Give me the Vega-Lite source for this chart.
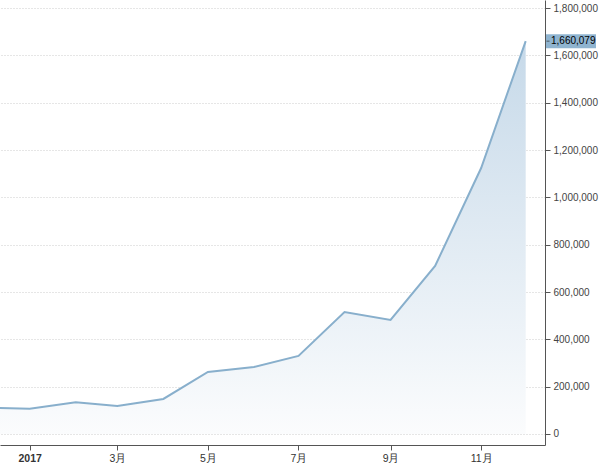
{
  "$schema": "https://vega.github.io/schema/vega-lite/v6.json",
  "width": 545,
  "height": 445,
  "autosize": {"type": "none"},
  "padding": {"left": 0, "top": 0, "right": 55, "bottom": 18},
  "background": "white",
  "config": {
    "view": {"stroke": null},
    "font": "Liberation Sans"
  },
  "data": {
    "values": [
      {"date": "2016-12-01", "value": 112000},
      {"date": "2017-01-01", "value": 107000},
      {"date": "2017-02-01", "value": 134000},
      {"date": "2017-03-01", "value": 118000},
      {"date": "2017-04-01", "value": 148000},
      {"date": "2017-05-01", "value": 262000},
      {"date": "2017-06-01", "value": 283000},
      {"date": "2017-07-01", "value": 330000},
      {"date": "2017-08-01", "value": 515000},
      {"date": "2017-09-01", "value": 482000},
      {"date": "2017-10-01", "value": 710000},
      {"date": "2017-11-01", "value": 1124000},
      {"date": "2017-12-01", "value": 1660079}
    ]
  },
  "encoding": {
    "x": {
      "field": "date",
      "type": "temporal",
      "scale": {
        "type": "utc",
        "domain": [
          {"year": 2016, "month": "dec", "date": 12, "utc": true},
          {"year": 2017, "month": "dec", "date": 14, "utc": true}
        ]
      },
      "axis": {
        "title": null,
        "values": [
          {"year": 2017, "month": "jan", "date": 1, "utc": true},
          {"year": 2017, "month": "mar", "date": 1, "utc": true},
          {"year": 2017, "month": "may", "date": 1, "utc": true},
          {"year": 2017, "month": "jul", "date": 1, "utc": true},
          {"year": 2017, "month": "sep", "date": 1, "utc": true},
          {"year": 2017, "month": "nov", "date": 1, "utc": true}
        ],
        "labelExpr": "utcmonth(datum.value) == 0 ? utcFormat(datum.value, '%Y') : (utcmonth(datum.value) + 1) + '月'",
        "labelFontWeight": {"condition": {"test": "utcmonth(datum.value) == 0", "value": "bold"}, "value": "normal"},
        "labelFontSize": 10.5,
        "labelColor": "#333333",
        "labelPadding": 3,
        "domainColor": "#555555",
        "tickColor": "#555555",
        "tickSize": 5,
        "grid": false
      }
    },
    "y": {
      "field": "value",
      "type": "quantitative",
      "scale": {"domain": [-46500, 1834000], "nice": false, "zero": false},
      "axis": {
        "title": null,
        "orient": "right",
        "values": [0, 200000, 400000, 600000, 800000, 1000000, 1200000, 1400000, 1600000, 1800000],
        "format": ",d",
        "labelFontSize": 10,
        "labelColor": "#444444",
        "labelPadding": 3,
        "domainColor": "#555555",
        "tickColor": "#555555",
        "tickSize": 5,
        "grid": true,
        "gridColor": "#cccccc",
        "gridDash": [1, 2]
      }
    }
  },
  "layer": [
    {
      "mark": {
        "type": "area",
        "clip": true,
        "color": {
          "gradient": "linear",
          "x1": 0, "y1": 0, "x2": 0, "y2": 1,
          "stops": [
            {"offset": 0, "color": "#c6d9e9"},
            {"offset": 1, "color": "#fbfcfd"}
          ]
        }
      }
    },
    {
      "mark": {"type": "line", "clip": true, "color": "#88afcc", "strokeWidth": 2}
    },
    {
      "transform": [{"filter": "datum.value == 1660079"}],
      "mark": {"type": "rect", "color": "#8fb4d0", "yOffset": -7, "y2Offset": 7},
      "encoding": {
        "x": {"value": 546},
        "x2": {"value": 596},
        "y2": {"field": "value"}
      }
    },
    {
      "transform": [{"filter": "datum.value == 1660079"}],
      "mark": {"type": "tick", "orient": "horizontal", "color": "#333333", "size": 3, "thickness": 1},
      "encoding": {
        "x": {"value": 548}
      }
    },
    {
      "transform": [{"filter": "datum.value == 1660079"}],
      "mark": {"type": "text", "align": "left", "baseline": "middle", "fontSize": 10, "color": "#000000"},
      "encoding": {
        "x": {"value": 551},
        "text": {"field": "value", "type": "quantitative", "format": ",d"}
      }
    }
  ]
}
